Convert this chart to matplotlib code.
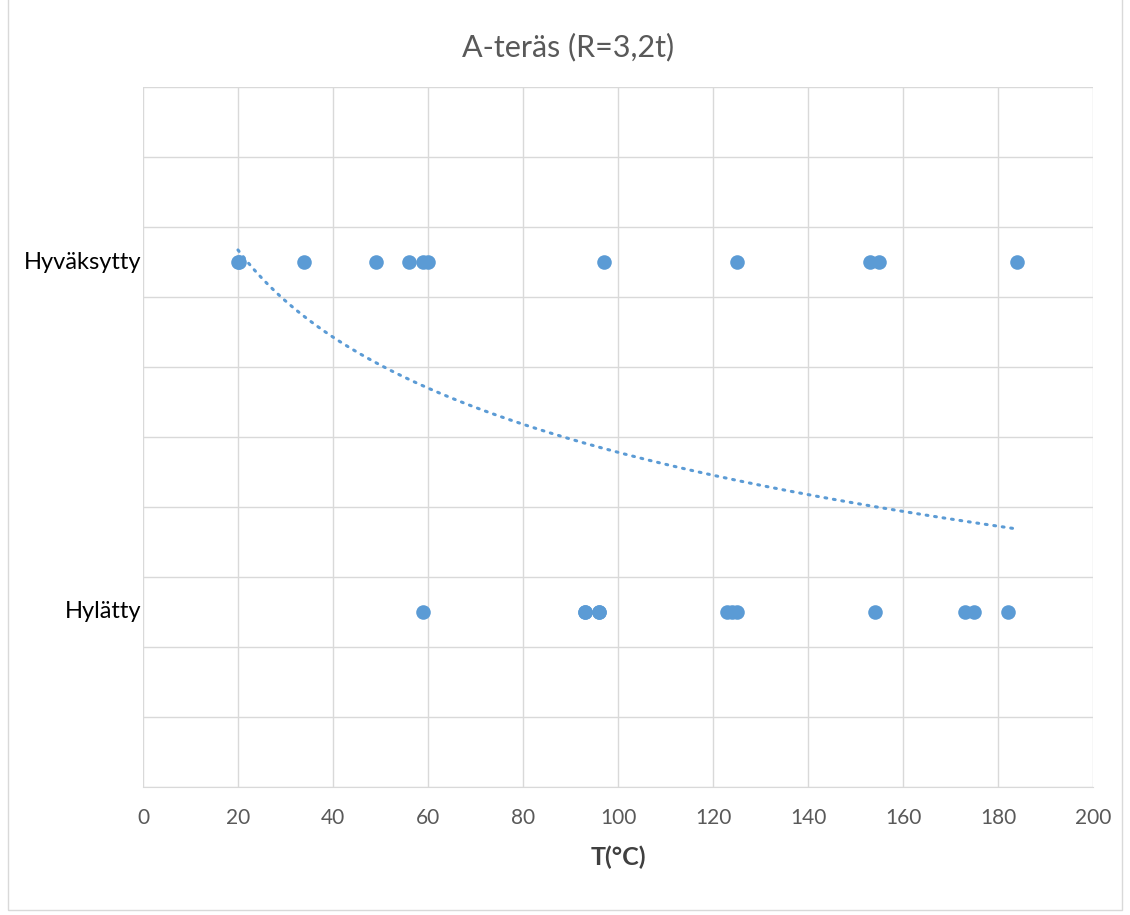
import numpy as np
import matplotlib.pyplot as plt
from matplotlib.patches import Rectangle

plt.rcParams['font.family'] = ['Lato', 'DejaVu Sans']

# accepted (Hyväksytty = 1) and rejected (Hylätty = 0) temperatures
# (93 and 96 appear twice among the rejected ones - overlapping dots)
t_ok = [20, 20.3, 34, 49, 56, 59, 60, 97, 125, 153, 155, 184]
t_rej = [59, 93, 93, 96, 96, 123, 124, 125, 154, 173, 175, 182]
y_labels = ["Hylätty", "Hyväksytty"]

x_all = np.array(t_ok + t_rej, dtype=float)
y_all = np.array([1] * len(t_ok) + [0] * len(t_rej), dtype=float)

fig = plt.figure(figsize=(11.3, 9.15), dpi=100)
ax = fig.add_axes([0.1265, 0.1399, 0.8408, 0.765])

# outer chart frame
fig.patches.append(Rectangle((0.007, 0.005), 0.986, 1.2, transform=fig.transFigure,
                             fill=False, edgecolor='#d9d9d9', linewidth=1))

col = '#5b9bd5'
ax.scatter(t_ok, [1] * len(t_ok), s=110, color=col, zorder=3, linewidths=0)
ax.scatter(t_rej, [0] * len(t_rej), s=110, color=col, zorder=3, linewidths=0)

# logarithmic trendline (least squares of y on ln x)
a, b = np.polyfit(np.log(x_all), y_all, 1)
xt = np.linspace(x_all.min(), x_all.max(), 300)
ax.plot(xt, a * np.log(xt) + b, color=col, linestyle=(0, (0.6, 2.2)), linewidth=2.2,
        dash_capstyle='round', zorder=2)

ax.set_xlim(0, 200)
ax.set_ylim(-0.5, 1.5)
ax.set_xticks(np.arange(0, 201, 20))
ax.set_yticks(np.arange(-0.5, 1.51, 0.2))
ax.set_yticklabels([])
ax.grid(True, color='#d9d9d9', linewidth=1)
ax.tick_params(axis='both', length=0)
ax.tick_params(axis='x', labelsize=15, labelcolor='#595959', pad=15)
for s in ['top', 'right', 'left']:
    ax.spines[s].set_visible(False)
ax.spines['bottom'].set_color('#d9d9d9')

for yv, lab in enumerate(y_labels):
    ax.text(-0.002, yv, lab, transform=ax.get_yaxis_transform(), ha='right', va='center',
            fontsize=17, color='black')

ax.set_xlabel("T(°C)", fontsize=18, fontweight='bold', color='#404040', labelpad=13)
fig.text(0.503, 0.948, "A-teräs (R=3,2t)", fontsize=22, color='#595959',
         ha='center', va='center')

fig.savefig('out.png', dpi=100)
